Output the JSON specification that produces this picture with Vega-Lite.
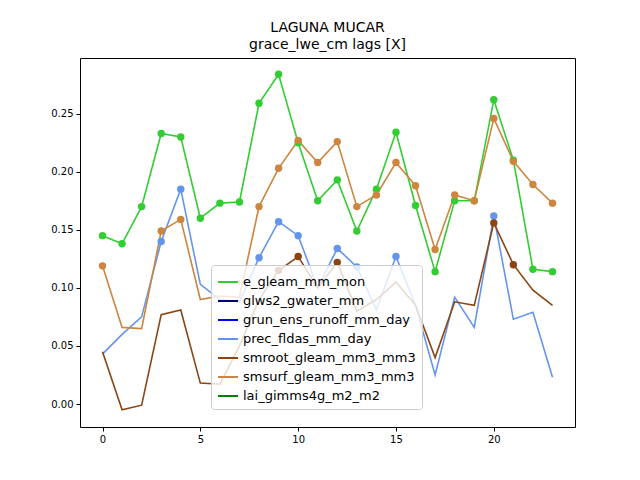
{
  "$schema": "https://vega.github.io/schema/vega-lite/v6.json",
  "width": 495,
  "height": 369,
  "autosize": "none",
  "padding": {"left": 80, "top": 58, "right": 65, "bottom": 53},
  "background": "white",
  "title": {"text": ["LAGUNA MUCAR", "grace_lwe_cm lags [X]"], "font": "DejaVu Sans", "fontSize": 14, "fontWeight": "normal", "color": "black", "offset": 6, "lineHeight": 17},
  "data": {"values": [
    {"s":"e_gleam_mm_mon","lag":0,"v":0.145,"sig":1},{"s":"e_gleam_mm_mon","lag":1,"v":0.138,"sig":1},{"s":"e_gleam_mm_mon","lag":2,"v":0.170,"sig":1},{"s":"e_gleam_mm_mon","lag":3,"v":0.233,"sig":1},{"s":"e_gleam_mm_mon","lag":4,"v":0.230,"sig":1},{"s":"e_gleam_mm_mon","lag":5,"v":0.160,"sig":1},{"s":"e_gleam_mm_mon","lag":6,"v":0.173,"sig":1},{"s":"e_gleam_mm_mon","lag":7,"v":0.174,"sig":1},{"s":"e_gleam_mm_mon","lag":8,"v":0.259,"sig":1},{"s":"e_gleam_mm_mon","lag":9,"v":0.284,"sig":1},{"s":"e_gleam_mm_mon","lag":10,"v":0.225,"sig":1},{"s":"e_gleam_mm_mon","lag":11,"v":0.175,"sig":1},{"s":"e_gleam_mm_mon","lag":12,"v":0.193,"sig":1},{"s":"e_gleam_mm_mon","lag":13,"v":0.149,"sig":1},{"s":"e_gleam_mm_mon","lag":14,"v":0.185,"sig":1},{"s":"e_gleam_mm_mon","lag":15,"v":0.234,"sig":1},{"s":"e_gleam_mm_mon","lag":16,"v":0.171,"sig":1},{"s":"e_gleam_mm_mon","lag":17,"v":0.114,"sig":1},{"s":"e_gleam_mm_mon","lag":18,"v":0.175,"sig":1},{"s":"e_gleam_mm_mon","lag":19,"v":0.175,"sig":1},{"s":"e_gleam_mm_mon","lag":20,"v":0.262,"sig":1},{"s":"e_gleam_mm_mon","lag":21,"v":0.210,"sig":1},{"s":"e_gleam_mm_mon","lag":22,"v":0.116,"sig":1},{"s":"e_gleam_mm_mon","lag":23,"v":0.114,"sig":1},
    {"s":"prec_fldas_mm_day","lag":0,"v":0.043,"sig":0},{"s":"prec_fldas_mm_day","lag":1,"v":0.060,"sig":0},{"s":"prec_fldas_mm_day","lag":2,"v":0.075,"sig":0},{"s":"prec_fldas_mm_day","lag":3,"v":0.140,"sig":1},{"s":"prec_fldas_mm_day","lag":4,"v":0.185,"sig":1},{"s":"prec_fldas_mm_day","lag":5,"v":0.103,"sig":0},{"s":"prec_fldas_mm_day","lag":6,"v":0.090,"sig":0},{"s":"prec_fldas_mm_day","lag":7,"v":0.088,"sig":0},{"s":"prec_fldas_mm_day","lag":8,"v":0.126,"sig":1},{"s":"prec_fldas_mm_day","lag":9,"v":0.157,"sig":1},{"s":"prec_fldas_mm_day","lag":10,"v":0.145,"sig":1},{"s":"prec_fldas_mm_day","lag":11,"v":0.100,"sig":0},{"s":"prec_fldas_mm_day","lag":12,"v":0.134,"sig":1},{"s":"prec_fldas_mm_day","lag":13,"v":0.118,"sig":1},{"s":"prec_fldas_mm_day","lag":14,"v":0.081,"sig":0},{"s":"prec_fldas_mm_day","lag":15,"v":0.127,"sig":1},{"s":"prec_fldas_mm_day","lag":16,"v":0.085,"sig":0},{"s":"prec_fldas_mm_day","lag":17,"v":0.025,"sig":0},{"s":"prec_fldas_mm_day","lag":18,"v":0.092,"sig":0},{"s":"prec_fldas_mm_day","lag":19,"v":0.066,"sig":0},{"s":"prec_fldas_mm_day","lag":20,"v":0.162,"sig":1},{"s":"prec_fldas_mm_day","lag":21,"v":0.073,"sig":0},{"s":"prec_fldas_mm_day","lag":22,"v":0.079,"sig":0},{"s":"prec_fldas_mm_day","lag":23,"v":0.023,"sig":0},
    {"s":"smroot_gleam_mm3_mm3","lag":0,"v":0.045,"sig":0},{"s":"smroot_gleam_mm3_mm3","lag":1,"v":-0.005,"sig":0},{"s":"smroot_gleam_mm3_mm3","lag":2,"v":-0.001,"sig":0},{"s":"smroot_gleam_mm3_mm3","lag":3,"v":0.077,"sig":0},{"s":"smroot_gleam_mm3_mm3","lag":4,"v":0.081,"sig":0},{"s":"smroot_gleam_mm3_mm3","lag":5,"v":0.018,"sig":0},{"s":"smroot_gleam_mm3_mm3","lag":6,"v":0.017,"sig":0},{"s":"smroot_gleam_mm3_mm3","lag":7,"v":0.050,"sig":0},{"s":"smroot_gleam_mm3_mm3","lag":8,"v":0.090,"sig":0},{"s":"smroot_gleam_mm3_mm3","lag":9,"v":0.115,"sig":1},{"s":"smroot_gleam_mm3_mm3","lag":10,"v":0.127,"sig":1},{"s":"smroot_gleam_mm3_mm3","lag":11,"v":0.100,"sig":0},{"s":"smroot_gleam_mm3_mm3","lag":12,"v":0.122,"sig":1},{"s":"smroot_gleam_mm3_mm3","lag":13,"v":0.080,"sig":0},{"s":"smroot_gleam_mm3_mm3","lag":14,"v":0.090,"sig":0},{"s":"smroot_gleam_mm3_mm3","lag":15,"v":0.105,"sig":0},{"s":"smroot_gleam_mm3_mm3","lag":16,"v":0.085,"sig":0},{"s":"smroot_gleam_mm3_mm3","lag":17,"v":0.040,"sig":0},{"s":"smroot_gleam_mm3_mm3","lag":18,"v":0.088,"sig":0},{"s":"smroot_gleam_mm3_mm3","lag":19,"v":0.085,"sig":0},{"s":"smroot_gleam_mm3_mm3","lag":20,"v":0.156,"sig":1},{"s":"smroot_gleam_mm3_mm3","lag":21,"v":0.120,"sig":1},{"s":"smroot_gleam_mm3_mm3","lag":22,"v":0.098,"sig":0},{"s":"smroot_gleam_mm3_mm3","lag":23,"v":0.085,"sig":0},
    {"s":"smsurf_gleam_mm3_mm3","lag":0,"v":0.119,"sig":1},{"s":"smsurf_gleam_mm3_mm3","lag":1,"v":0.066,"sig":0},{"s":"smsurf_gleam_mm3_mm3","lag":2,"v":0.065,"sig":0},{"s":"smsurf_gleam_mm3_mm3","lag":3,"v":0.149,"sig":1},{"s":"smsurf_gleam_mm3_mm3","lag":4,"v":0.159,"sig":1},{"s":"smsurf_gleam_mm3_mm3","lag":5,"v":0.090,"sig":0},{"s":"smsurf_gleam_mm3_mm3","lag":6,"v":0.093,"sig":0},{"s":"smsurf_gleam_mm3_mm3","lag":7,"v":0.092,"sig":0},{"s":"smsurf_gleam_mm3_mm3","lag":8,"v":0.170,"sig":1},{"s":"smsurf_gleam_mm3_mm3","lag":9,"v":0.203,"sig":1},{"s":"smsurf_gleam_mm3_mm3","lag":10,"v":0.227,"sig":1},{"s":"smsurf_gleam_mm3_mm3","lag":11,"v":0.208,"sig":1},{"s":"smsurf_gleam_mm3_mm3","lag":12,"v":0.226,"sig":1},{"s":"smsurf_gleam_mm3_mm3","lag":13,"v":0.170,"sig":1},{"s":"smsurf_gleam_mm3_mm3","lag":14,"v":0.180,"sig":1},{"s":"smsurf_gleam_mm3_mm3","lag":15,"v":0.208,"sig":1},{"s":"smsurf_gleam_mm3_mm3","lag":16,"v":0.188,"sig":1},{"s":"smsurf_gleam_mm3_mm3","lag":17,"v":0.133,"sig":1},{"s":"smsurf_gleam_mm3_mm3","lag":18,"v":0.180,"sig":1},{"s":"smsurf_gleam_mm3_mm3","lag":19,"v":0.175,"sig":1},{"s":"smsurf_gleam_mm3_mm3","lag":20,"v":0.246,"sig":1},{"s":"smsurf_gleam_mm3_mm3","lag":21,"v":0.209,"sig":1},{"s":"smsurf_gleam_mm3_mm3","lag":22,"v":0.189,"sig":1},{"s":"smsurf_gleam_mm3_mm3","lag":23,"v":0.173,"sig":1}
  ]},
  "encoding": {
    "x": {"field": "lag", "type": "quantitative", "scale": {"domain": [-1.15, 24.15], "nice": false, "zero": false},
      "axis": {"values": [0, 5, 10, 15, 20], "title": null, "grid": false}},
    "y": {"field": "v", "type": "quantitative", "scale": {"domain": [-0.0198, 0.298], "nice": false, "zero": false},
      "axis": {"values": [0, 0.05, 0.1, 0.15, 0.2, 0.25], "format": ".2f", "title": null, "grid": false}},
    "color": {"field": "s", "type": "nominal",
      "scale": {"domain": ["e_gleam_mm_mon", "glws2_gwater_mm", "grun_ens_runoff_mm_day", "prec_fldas_mm_day", "smroot_gleam_mm3_mm3", "smsurf_gleam_mm3_mm3", "lai_gimms4g_m2_m2"],
        "range": ["#32cd32", "#000080", "#0000ff", "#6495ed", "#8b4513", "#cd853f", "#008000"]},
      "legend": {"title": null, "orient": "none", "legendX": 131, "legendY": 207, "symbolType": "stroke", "symbolSize": 400, "symbolStrokeWidth": 2,
        "labelFont": "DejaVu Sans", "labelFontSize": 13, "labelColor": "black", "labelLimit": 0, "rowPadding": 1, "padding": 6,
        "fillColor": "rgba(255,255,255,0.8)", "strokeColor": "#cccccc", "cornerRadius": 3}}
  },
  "layer": [
    {"mark": {"type": "line", "strokeWidth": 1.6}},
    {"transform": [{"filter": "datum.sig == 1"}], "mark": {"type": "circle", "size": 55, "opacity": 1}}
  ],
  "config": {
    "view": {"stroke": "black", "strokeWidth": 1},
    "axis": {"labelFont": "DejaVu Sans", "labelFontSize": 10, "labelColor": "black", "tickColor": "black", "domain": false, "tickSize": 4, "labelPadding": 3}
  }
}
